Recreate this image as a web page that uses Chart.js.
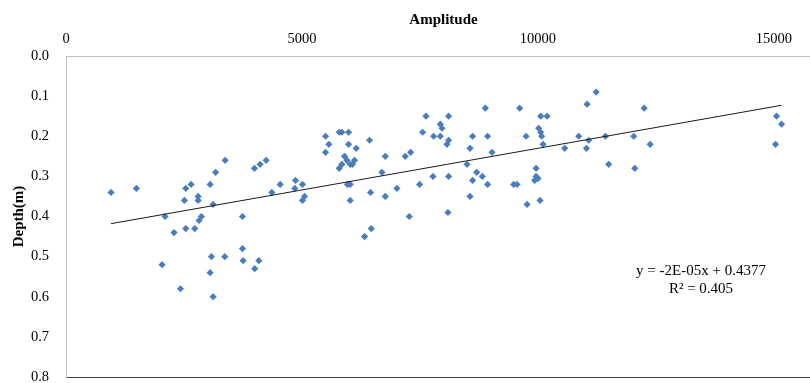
<!DOCTYPE html>
<html>
<head>
<meta charset="utf-8">
<script src="https://cdn.jsdelivr.net/npm/chart.js@4/dist/chart.umd.min.js"></script>
<style>
  html, body { margin: 0; padding: 0; background: #fff; overflow: hidden; }
  #wrap { width: 825px; height: 395px; }
</style>
</head>
<body>
<div id="wrap"><canvas id="c" width="825" height="395"></canvas></div>
<script>
// ---- data ----
const amplitude = [
  954, 1492, 2036, 2100, 2290, 2425, 2510, 2538, 2538, 2651,
  2729, 2800, 2800, 2820, 2870, 3054, 3054, 3082, 3118, 3118,
  3170, 3365, 3372, 3740, 3740, 3754, 3994, 4000, 4086, 4114,
  4242, 4362, 4539, 4850, 4864, 5012, 5012, 5055, 5500, 5500,
  5571, 5790, 5847, 5988, 5988, 6150, 6433, 5790, 5847, 5903,
  5953, 6023, 6070, 6115, 5966, 6023, 6023, 6454, 6766, 7013,
  6327, 6469, 6766, 6695, 7190, 7303, 7275, 7494, 7558, 7629,
  7791, 7777, 7932, 7968, 7932, 8108, 8108, 8073, 8108, 8094,
  8887, 9614, 10060, 10194, 10017, 10060, 10081, 10110, 8617, 8935,
  9750, 8562, 9029, 8498, 8703, 8823, 8617, 8935, 8562, 9487,
  9558, 9962, 9962, 10004, 9932, 10046, 9771, 10568, 10865, 11234,
  11043, 12252, 11077, 11029, 11432, 12032, 12380, 11501, 12053, 15058,
  15164, 15037
];
const depth = [
  0.34, 0.33, 0.52, 0.40, 0.44, 0.58, 0.36, 0.33, 0.43, 0.32,
  0.43, 0.35, 0.36, 0.41, 0.40, 0.32, 0.54, 0.50, 0.37, 0.60,
  0.29, 0.50, 0.26, 0.40, 0.48, 0.51, 0.28, 0.53, 0.51, 0.27,
  0.26, 0.34, 0.32, 0.33, 0.31, 0.32, 0.36, 0.35, 0.20, 0.24,
  0.22, 0.19, 0.19, 0.19, 0.22, 0.23, 0.21, 0.28, 0.27, 0.25,
  0.26, 0.27, 0.27, 0.26, 0.32, 0.32, 0.36, 0.34, 0.35, 0.33,
  0.45, 0.43, 0.25, 0.29, 0.25, 0.24, 0.40, 0.32, 0.19, 0.15,
  0.20, 0.30, 0.17, 0.18, 0.20, 0.15, 0.21, 0.22, 0.30, 0.39,
  0.13, 0.13, 0.15, 0.15, 0.18, 0.19, 0.20, 0.22, 0.20, 0.20,
  0.20, 0.23, 0.24, 0.27, 0.29, 0.30, 0.31, 0.32, 0.35, 0.32,
  0.32, 0.28, 0.30, 0.305, 0.31, 0.36, 0.37, 0.23, 0.20, 0.09,
  0.12, 0.13, 0.21, 0.23, 0.20, 0.20, 0.22, 0.27, 0.28, 0.15,
  0.17, 0.22
];
const xTicks = [0, 5000, 10000, 15000];
const yTicks = [0, 0.1, 0.2, 0.3, 0.4, 0.5, 0.6, 0.7, 0.8];
const trendSlope = -2.076e-5;
const trendIntercept = 0.4377;
const equationLines = ['y = -2E-05x + 0.4377', 'R\u00B2 = 0.405'];

// ---- build chart ----
const points = amplitude.map((a, i) => ({ x: a, y: depth[i] }));
const xMin = Math.min(...amplitude), xMax = Math.max(...amplitude);
const trend = [xMin, xMax].map(x => ({ x: x, y: trendIntercept + trendSlope * x }));

const serif = 'Liberation Serif, Times New Roman, serif';

const equationPlugin = {
  id: 'equation',
  afterDatasetsDraw(chart) {
    const ctx = chart.ctx;
    ctx.save();
    ctx.fillStyle = '#000';
    ctx.font = '15px ' + serif;
    ctx.textAlign = 'center';
    ctx.textBaseline = 'middle';
    ctx.fillText(equationLines[0], 701, 271);
    ctx.fillText(equationLines[1], 701, 289);
    ctx.restore();
  }
};

new Chart(document.getElementById('c'), {
  type: 'scatter',
  data: {
    datasets: [
      {
        type: 'line',
        data: trend,
        borderColor: '#1a1a1a',
        borderWidth: 1,
        pointRadius: 0,
        fill: false,
        order: 0
      },
      {
        data: points,
        pointStyle: 'rectRot',
        pointRadius: 3.6,
        backgroundColor: '#4A7EBB',
        borderColor: '#4A7EBB',
        borderWidth: 0,
        order: 1
      }
    ]
  },
  options: {
    responsive: false,
    animation: false,
    devicePixelRatio: 1,
    layout: { padding: { left: 0, right: 0, top: 0, bottom: 18 } },
    plugins: { legend: { display: false }, tooltip: { enabled: false } },
    scales: {
      x: {
        type: 'linear',
        position: 'top',
        min: 0,
        max: 16000,
        afterBuildTicks(s) { s.ticks = xTicks.map(v => ({ value: v })); },
        ticks: {
          padding: 8,
          maxRotation: 0,
          autoSkip: false,
          color: '#000',
          font: { family: serif, size: 14.5 },
          callback: v => String(v)
        },
        grid: { display: false, drawTicks: false },
        border: { display: true, color: '#c0c0c0', width: 1 },
        title: {
          display: true,
          text: 'Amplitude',
          color: '#000',
          font: { family: serif, size: 15, weight: 'bold' },
          padding: { top: 11, bottom: 0 }
        },
        afterFit(s) { s.height = 56; }
      },
      xb: {
        type: 'linear',
        position: 'bottom',
        min: 0,
        max: 16000,
        ticks: { display: false },
        grid: { display: false, drawTicks: false },
        border: { display: true, color: '#404040', width: 1 },
        afterFit(s) { s.height = 0; }
      },
      y: {
        type: 'linear',
        position: 'left',
        reverse: true,
        min: 0,
        max: 0.8,
        afterBuildTicks(s) { s.ticks = yTicks.map(v => ({ value: v })); },
        ticks: {
          padding: 0,
          autoSkip: false,
          color: '#000',
          font: { family: serif, size: 14.5 },
          callback: v => Number(v).toFixed(1)
        },
        grid: { display: false, drawTicks: true, tickLength: 17 },
        border: { display: true, color: '#c0c0c0', width: 1 },
        title: {
          display: true,
          text: 'Depth(m)',
          color: '#000',
          font: { family: serif, size: 15, weight: 'bold' },
          padding: { top: 10, bottom: 0 }
        },
        afterFit(s) { s.width = 66; }
      }
    }
  },
  plugins: [equationPlugin]
});
</script>
</body>
</html>
